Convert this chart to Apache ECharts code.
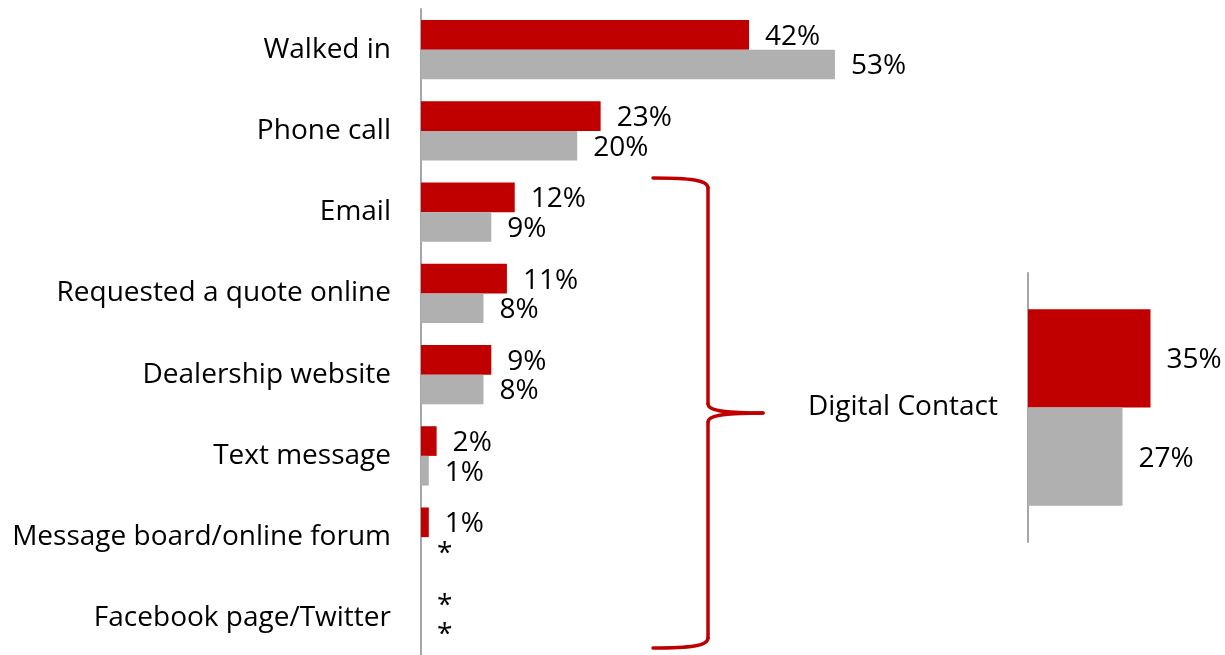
<!DOCTYPE html>
<html>
<head>
<meta charset="utf-8">
<script src="https://cdn.jsdelivr.net/npm/echarts@6/dist/echarts.min.js"></script>
<style>
  html, body { margin: 0; padding: 0; background: #ffffff; overflow: hidden; }
  #chart { width: 1225px; height: 662px; }
</style>
</head>
<body>
<div id="chart"></div>
<script>
// How customers first contacted the dealership (share of respondents, %)
const categories = [
  'Walked in',
  'Phone call',
  'Email',
  'Requested a quote online',
  'Dealership website',
  'Text message',
  'Message board/online forum',
  'Facebook page/Twitter'
];
const redValues  = [42, 23, 12, 11, 9, 2, 1, 0];
const grayValues = [53, 20, 9, 8, 8, 1, 0, 0];

// Combined digital channels
const digitalCategory = ['Digital Contact'];
const digitalRed  = [35];
const digitalGray = [27];

const RED = '#C00000';
const GRAY = '#B0B0B0';
const AXIS = '#A6A6A6';
const FONT = '"Open Sans", "DejaVu Sans", sans-serif';
const FS = 28;

// values below half a percent are shown as an asterisk
const fmt = p => (p.value === 0 ? '*' : p.value + '%');

const barLabel = {
  show: true,
  position: 'right',
  distance: 16,
  color: '#000',
  fontFamily: FONT,
  fontSize: FS,
  offset: [0, 2],
  formatter: fmt
};

const catAxis = (gridIndex, data) => ({
  type: 'category',
  gridIndex,
  data,
  inverse: true,
  axisLine: { show: true, lineStyle: { color: AXIS, width: 2 } },
  axisTick: { show: false },
  axisLabel: { margin: 30, color: '#000', fontFamily: FONT, fontSize: FS }
});

const valAxis = (gridIndex, max) => ({
  type: 'value',
  gridIndex,
  min: 0,
  max,
  show: false,
  splitLine: { show: false }
});

// brace grouping the digital channels, built from curves and straight runs
const braceStyle = { stroke: RED, lineWidth: 3.5, fill: null, lineCap: 'round' };
const curve = (x1, y1, cpx1, cpy1, cpx2, cpy2, x2, y2) => ({
  type: 'bezierCurve', silent: true,
  shape: { x1, y1, cpx1, cpy1, cpx2, cpy2, x2, y2 },
  style: braceStyle
});
const straight = (x1, y1, x2, y2) => ({
  type: 'line', silent: true,
  shape: { x1, y1, x2, y2 },
  style: braceStyle
});

const chart = echarts.init(document.getElementById('chart'), null, { renderer: 'canvas' });

chart.setOption({
  animation: false,
  backgroundColor: '#ffffff',
  grid: [
    { left: 421, top: 9, width: 781, height: 650 },
    { left: 1028, top: 273, width: 175, height: 269 }
  ],
  yAxis: [catAxis(0, categories), catAxis(1, digitalCategory)],
  xAxis: [valAxis(0, 100), valAxis(1, 50)],
  series: [
    {
      type: 'bar', xAxisIndex: 0, yAxisIndex: 0, data: redValues,
      itemStyle: { color: RED }, barGap: '0%', barCategoryGap: '27%', label: barLabel
    },
    {
      type: 'bar', xAxisIndex: 0, yAxisIndex: 0, data: grayValues,
      itemStyle: { color: GRAY }, barGap: '0%', barCategoryGap: '27%', label: barLabel
    },
    {
      type: 'bar', xAxisIndex: 1, yAxisIndex: 1, data: digitalRed,
      itemStyle: { color: RED }, barGap: '0%', barCategoryGap: '27%', label: barLabel
    },
    {
      type: 'bar', xAxisIndex: 1, yAxisIndex: 1, data: digitalGray,
      itemStyle: { color: GRAY }, barGap: '0%', barCategoryGap: '27%', label: barLabel
    }
  ],
  graphic: [
    curve(653, 178, 690, 178, 708, 180, 708, 188),
    straight(708, 188, 708, 404),
    curve(708, 404, 708, 410, 720, 413, 763, 413),
    curve(763, 413, 720, 413, 708, 416, 708, 422),
    straight(708, 422, 708, 638),
    curve(708, 638, 708, 646, 690, 648, 653, 648)
  ]
});
</script>
</body>
</html>
